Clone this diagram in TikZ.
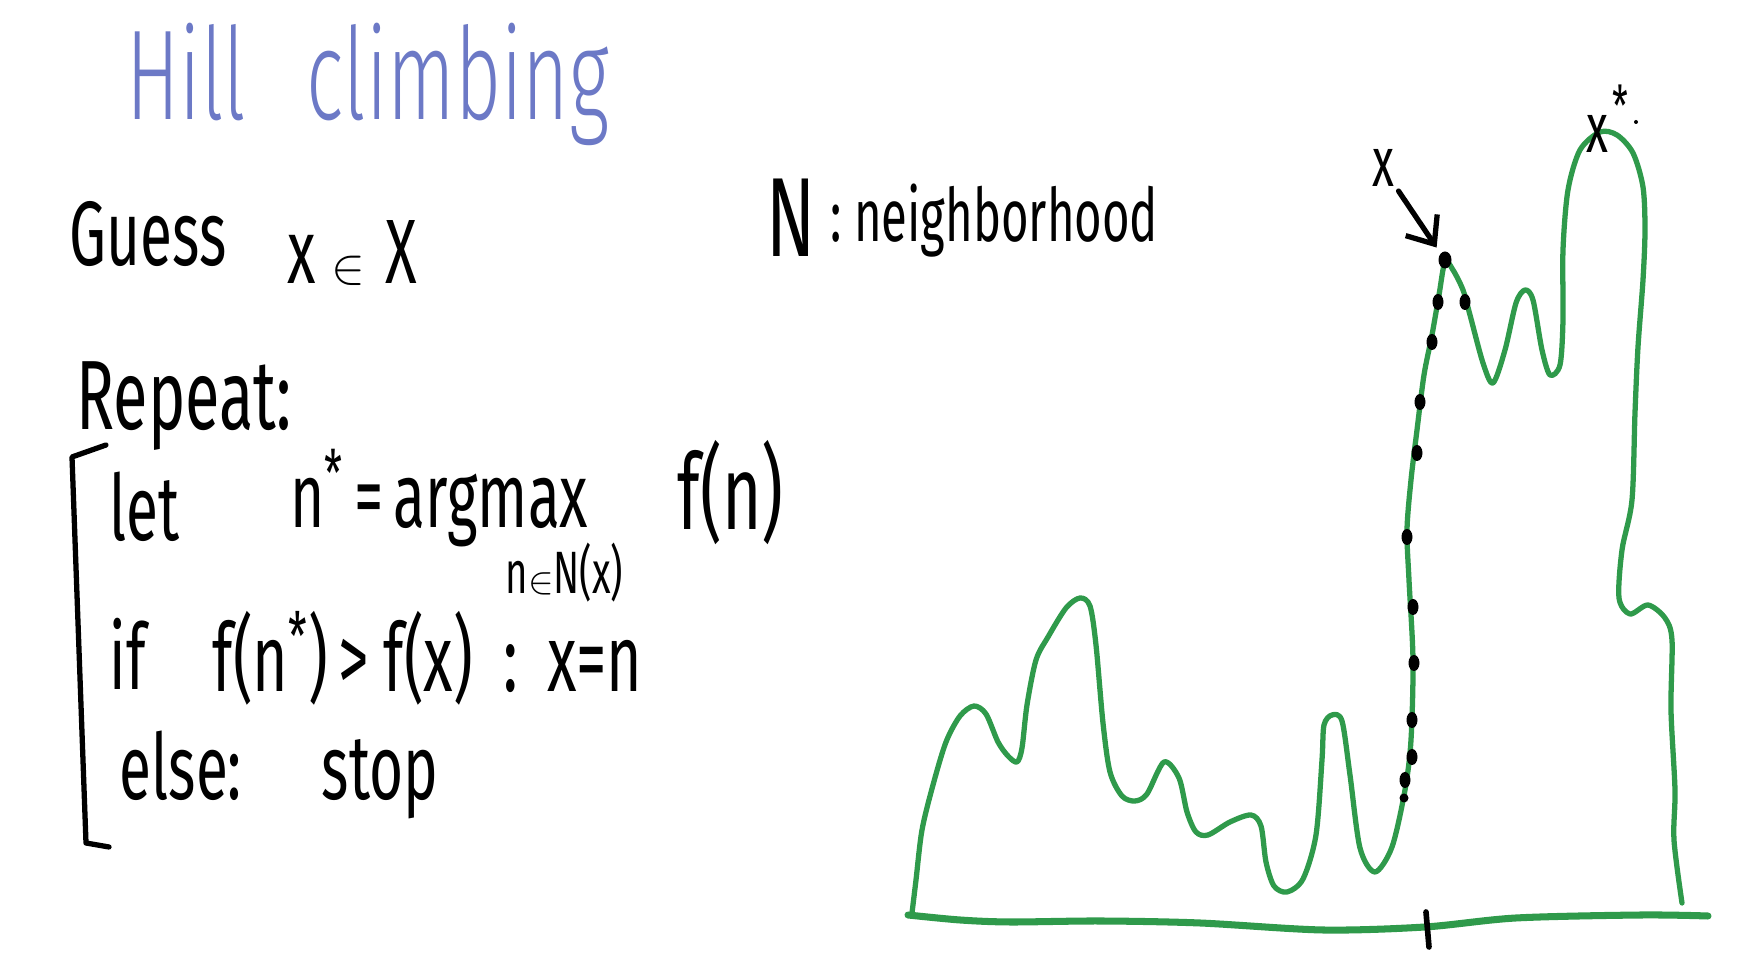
\documentclass[tikz,border=0pt]{standalone}
\usepackage{fontspec}
\usepackage{tikz}
\usetikzlibrary{arrows.meta}
\newfontfamily\hand[FakeStretch=0.64]{Fira Sans}
\newfontfamily\titlefont[FakeStretch=0.62]{Fira Sans Light}
\definecolor{chalkblue}{HTML}{6C79C6}
\definecolor{hillgreen}{HTML}{2F9A4B}

\begin{document}
\begin{tikzpicture}[x=0.01cm,y=-0.01cm,
  hand/.style={font=\hand\fontsize{#1}{#1}\selectfont,anchor=base west,inner sep=0pt},
  hand/.default=26,
  title/.style={font=\titlefont\fontsize{36.4}{36.4}\selectfont,text=chalkblue,anchor=base west,inner sep=0pt},
  hill/.style={hillgreen,line width=1.5pt,line cap=round,line join=round},
  pen/.style={line width=1.5pt,line cap=round,line join=round}]
  \useasboundingbox (0,0) rectangle (1750,980);
  \node[title] (title) at (126,120) {Hill\hspace{0.6cm}climbing};
  \node[hand] (guess) at (69,266) {Guess};
  \node[hand] (guessx) at (287,284) {x\,{\fontsize{15}{15}\selectfont$\in$}\hspace{0.2cm}X};
  \node[hand=32] (nlab) at (766,257) {N};
  \node[hand=21] (nword) at (830,242) {:\hspace{0.12cm}neighborhood};
  \node[hand=28] (repeat) at (76,430) {Repeat:};
  \draw[pen] (106,445) -- (72,457) -- (86,843) -- (109,847);
  \node[hand] (let) at (109,541) {let};
  \node[hand] (argmax) at (290,528) {n\textsuperscript{*}\hspace{0.1cm}=\hspace{0.1cm}argmax};
  \node[hand=17] (sub) at (505,594) {n{\fontsize{11}{11}\selectfont$\in$}N(x)};
  \node[hand=30] (fn) at (677,530) {f(n)};
  \node[hand] (iflab) at (109,690) {if};
  \node[hand=27] (cond) at (212,692) {f(n\textsuperscript{*})\hspace{0.1cm}>\hspace{0.15cm}f(x)\hspace{0.3cm}:\hspace{0.3cm}x=n};
  \node[hand] (elselab) at (119,800) {else:\hspace{0.8cm}stop};
  \draw[hill] plot[smooth,tension=0.5] coordinates {(912,913) (916,880) (922,830) (933,785) (946,742) (960,716) (974,706) (986,714) (998,742) (1008,756) (1017,762) (1022,748) (1027,705) (1036,660) (1048,637) (1066,608) (1080,598) (1090,606) (1096,645) (1103,723) (1110,772) (1122,796) (1135,801) (1147,794) (1164,762) (1179,778) (1187,812) (1196,832) (1208,835) (1230,822) (1251,815) (1261,826) (1266,862) (1274,886) (1287,892) (1303,879) (1316,835) (1322,760) (1324,725) (1332,715) (1342,721) (1350,775) (1360,848) (1375,872) (1392,847) (1405,790) (1411,740) (1413,660) (1409,580) (1407,530) (1411,480) (1417,430) (1424,375) (1432,335) (1439,295) (1445,262) (1453,270) (1463,290) (1470,315) (1483,363) (1493,383) (1505,350) (1516,303) (1525,290) (1533,300) (1542,350) (1550,375) (1560,365) (1563,320) (1563,250) (1568,190) (1580,150) (1600,132) (1617,135) (1633,153) (1643,187) (1645,230) (1643,280) (1638,347) (1635,413) (1632,500) (1622,550) (1619,598) (1630,614) (1648,605) (1665,618) (1672,640) (1671,710) (1675,790) (1674,840) (1682,903)};
  \draw[hill,line width=2pt] plot[smooth] coordinates {(908,915) (960,920) (1010,922) (1100,921) (1200,923) (1323,930) (1425,927) (1516,918) (1642,915) (1708,916)};
  \draw[pen,line width=1.6pt] (1426,912) -- (1429,947);
  \foreach \px/\py in {1438/302,1465/302,1432/342,1420/402,1417/453,1407/537,1413/607,1414/663,1412/720,1412/757,1405/780}
    \fill (\px,\py) ellipse [x radius=0.55mm,y radius=0.8mm];
  \fill (1404,798) circle [radius=0.45mm];
  \fill (1445,260) ellipse [x radius=0.65mm,y radius=0.85mm];
  \node[hand=20,anchor=center] (xlab) at (1383,168) {x};
  \coordinate (xcur) at (1445,260);
  \draw[pen,-{Straight Barb[length=2.3mm,width=3.8mm]},shorten <=2pt,shorten >=1.5mm] (xlab) -- (xcur);
  \node[hand=20,anchor=center] (xopt) at (1597,134) {x};
  \node[hand=16,anchor=center] (xstar) at (1620,106) {*};
  \fill (1636,122) circle [radius=0.2mm];
\end{tikzpicture}
\end{document}
